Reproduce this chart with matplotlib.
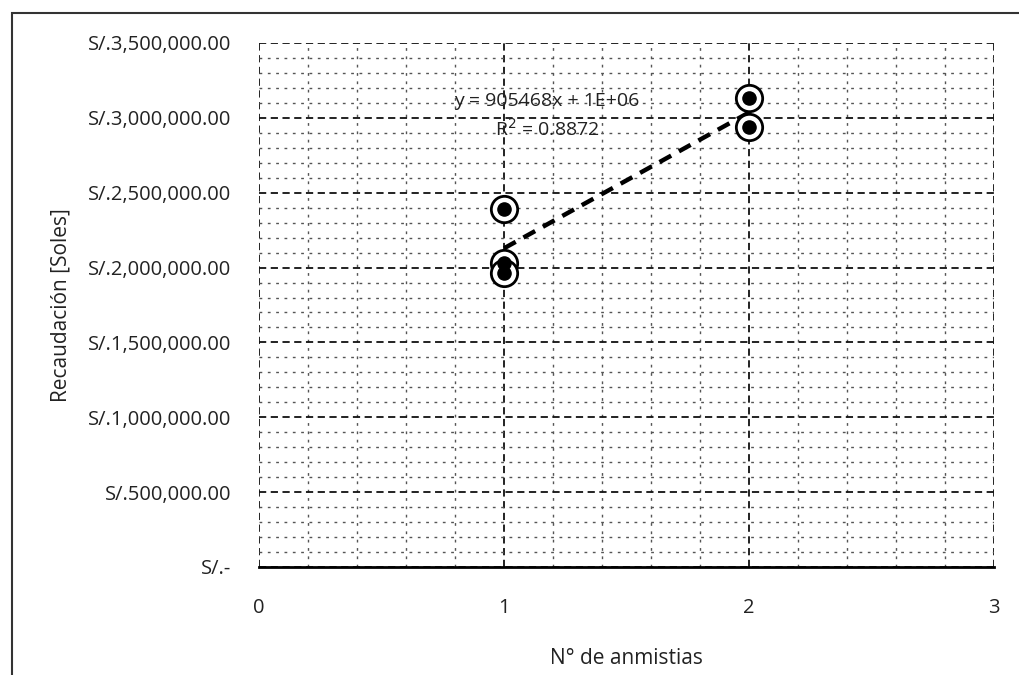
import numpy as np
import matplotlib.pyplot as plt
from matplotlib.ticker import FuncFormatter, MultipleLocator
from matplotlib.patches import Rectangle

plt.rcParams["font.family"] = ["Open Sans", "DejaVu Sans"]

# data
anmistias = [1, 1, 1, 2, 2]
recaudacion = [2391000, 2031000, 1964000, 3133000, 2939000]
eq_text = "y = 905468x + 1E+06"
r2_text = "R$^2$ = 0.8872"


def soles(v, pos):
    if v == 0:
        return "S/.-"
    return "S/.{:,.2f}".format(v)


fig = plt.figure(figsize=(10.19, 6.75), dpi=100)
ax = fig.add_axes([0.2542, 0.16, 0.7213, 0.7763])

# outer chart frame (only top/left visible in the scan)
fig.patches.append(Rectangle((12 / 1019, -0.1), 1.2, 1 - 13 / 675 + 0.1,
                             transform=fig.transFigure, fill=False,
                             edgecolor="#333333", lw=1.5))

ax.set_xlim(0, 3)
ax.set_ylim(0, 3500000)
ax.xaxis.set_major_locator(MultipleLocator(1))
ax.xaxis.set_minor_locator(MultipleLocator(0.2))
ax.yaxis.set_major_locator(MultipleLocator(500000))
ax.yaxis.set_minor_locator(MultipleLocator(100000))
ax.yaxis.set_major_formatter(FuncFormatter(soles))

ax.grid(which="major", color="#111111", linestyle=(0, (4, 2.5)), lw=1.3)
ax.grid(which="minor", color="#555555", linestyle=(0, (2, 4)), lw=1.0)
ax.set_axisbelow(True)

for s in ["top", "right", "left"]:
    ax.spines[s].set_visible(False)
ax.spines["bottom"].set_linewidth(2)
ax.tick_params(which="both", length=0, labelsize=14.5, colors="#222222")
ax.tick_params(axis="x", pad=22)
ax.tick_params(axis="y", pad=20)

# trend line from least squares fit
m, b = np.polyfit(anmistias, recaudacion, 1)
xs = np.array([min(anmistias), max(anmistias)])
ax.plot(xs, m * xs + b, color="black", lw=3.2, linestyle=(0, (3, 2)), zorder=3)

ax.scatter(anmistias, recaudacion, s=360, facecolor="white", edgecolor="black",
           linewidth=2, zorder=4)
ax.scatter(anmistias, recaudacion, s=90, facecolor="black", edgecolor="black",
           zorder=5)

ax.text(1.176, 3112000, eq_text, ha="center", va="center", fontsize=14,
        color="#222222")
ax.text(1.176, 2925000, r2_text, ha="center", va="center", fontsize=14,
        color="#222222")

ax.set_xlabel("N° de anmistias", fontsize=15, labelpad=22, color="#222222")
ax.set_ylabel("Recaudación [Soles]", fontsize=15, labelpad=12, color="#222222")

fig.savefig("out.png", dpi=100)
